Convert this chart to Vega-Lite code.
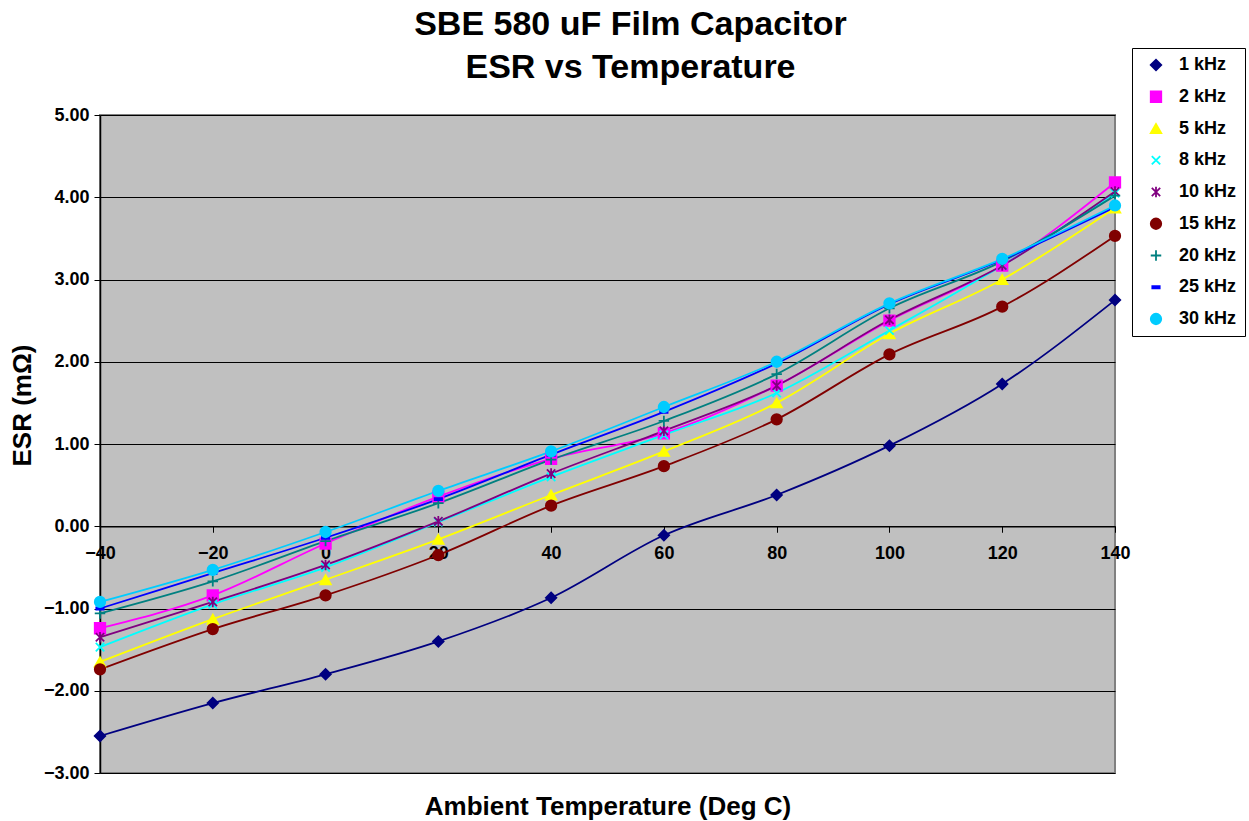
{
  "$schema": "https://vega.github.io/schema/vega-lite/v6.json",
  "width": 1015,
  "height": 658,
  "autosize": {"type": "none"},
  "padding": {"left": 100, "top": 115, "right": 134, "bottom": 48},
  "background": "white",
  "title": {
    "text": ["SBE 580 uF Film Capacitor", "ESR vs Temperature"],
    "font": "Liberation Sans",
    "fontSize": 34,
    "fontWeight": "bold",
    "color": "black",
    "anchor": "middle",
    "dx": 23,
    "offset": -37,
    "lineHeight": 43
  },
  "config": {
    "view": {"fill": "#C0C0C0", "stroke": "#808080", "strokeWidth": 2},
    "font": "Liberation Sans",
    "legend": {
      "title": null,
      "orient": "none", "legendX": 1032, "legendY": -67,
      "fillColor": "white", "strokeColor": "black", "padding": 8,
      "labelFont": "Liberation Sans", "labelFontSize": 18, "labelFontWeight": "bold", "labelColor": "black",
      "rowPadding": 13.75, "symbolSize": 110, "symbolStrokeWidth": 1.8, "labelOffset": 14, "symbolOffset": 7
    }
  },
  "data": {
    "values": [
      {"T": -40, "f": "1 kHz", "esr": -2.55}, {"T": -20, "f": "1 kHz", "esr": -2.15}, {"T": 0, "f": "1 kHz", "esr": -1.80}, {"T": 20, "f": "1 kHz", "esr": -1.40}, {"T": 40, "f": "1 kHz", "esr": -0.87}, {"T": 60, "f": "1 kHz", "esr": -0.11}, {"T": 80, "f": "1 kHz", "esr": 0.38}, {"T": 100, "f": "1 kHz", "esr": 0.98}, {"T": 120, "f": "1 kHz", "esr": 1.73}, {"T": 140, "f": "1 kHz", "esr": 2.75},
      {"T": -40, "f": "2 kHz", "esr": -1.24}, {"T": -20, "f": "2 kHz", "esr": -0.84}, {"T": 0, "f": "2 kHz", "esr": -0.21}, {"T": 20, "f": "2 kHz", "esr": 0.36}, {"T": 40, "f": "2 kHz", "esr": 0.82}, {"T": 60, "f": "2 kHz", "esr": 1.13}, {"T": 80, "f": "2 kHz", "esr": 1.71}, {"T": 100, "f": "2 kHz", "esr": 2.50}, {"T": 120, "f": "2 kHz", "esr": 3.17}, {"T": 140, "f": "2 kHz", "esr": 4.18},
      {"T": -40, "f": "5 kHz", "esr": -1.65}, {"T": -20, "f": "5 kHz", "esr": -1.13}, {"T": 0, "f": "5 kHz", "esr": -0.65}, {"T": 20, "f": "5 kHz", "esr": -0.16}, {"T": 40, "f": "5 kHz", "esr": 0.38}, {"T": 60, "f": "5 kHz", "esr": 0.91}, {"T": 80, "f": "5 kHz", "esr": 1.50}, {"T": 100, "f": "5 kHz", "esr": 2.34}, {"T": 120, "f": "5 kHz", "esr": 3.00}, {"T": 140, "f": "5 kHz", "esr": 3.87},
      {"T": -40, "f": "8 kHz", "esr": -1.47}, {"T": -20, "f": "8 kHz", "esr": -0.95}, {"T": 0, "f": "8 kHz", "esr": -0.50}, {"T": 20, "f": "8 kHz", "esr": 0.05}, {"T": 40, "f": "8 kHz", "esr": 0.60}, {"T": 60, "f": "8 kHz", "esr": 1.11}, {"T": 80, "f": "8 kHz", "esr": 1.62}, {"T": 100, "f": "8 kHz", "esr": 2.38}, {"T": 120, "f": "8 kHz", "esr": 3.17}, {"T": 140, "f": "8 kHz", "esr": 4.05},
      {"T": -40, "f": "10 kHz", "esr": -1.35}, {"T": -20, "f": "10 kHz", "esr": -0.92}, {"T": 0, "f": "10 kHz", "esr": -0.47}, {"T": 20, "f": "10 kHz", "esr": 0.06}, {"T": 40, "f": "10 kHz", "esr": 0.64}, {"T": 60, "f": "10 kHz", "esr": 1.16}, {"T": 80, "f": "10 kHz", "esr": 1.71}, {"T": 100, "f": "10 kHz", "esr": 2.51}, {"T": 120, "f": "10 kHz", "esr": 3.17}, {"T": 140, "f": "10 kHz", "esr": 4.07},
      {"T": -40, "f": "15 kHz", "esr": -1.74}, {"T": -20, "f": "15 kHz", "esr": -1.25}, {"T": 0, "f": "15 kHz", "esr": -0.84}, {"T": 20, "f": "15 kHz", "esr": -0.35}, {"T": 40, "f": "15 kHz", "esr": 0.25}, {"T": 60, "f": "15 kHz", "esr": 0.73}, {"T": 80, "f": "15 kHz", "esr": 1.30}, {"T": 100, "f": "15 kHz", "esr": 2.09}, {"T": 120, "f": "15 kHz", "esr": 2.67}, {"T": 140, "f": "15 kHz", "esr": 3.53},
      {"T": -40, "f": "20 kHz", "esr": -1.06}, {"T": -20, "f": "20 kHz", "esr": -0.67}, {"T": 0, "f": "20 kHz", "esr": -0.18}, {"T": 20, "f": "20 kHz", "esr": 0.28}, {"T": 40, "f": "20 kHz", "esr": 0.81}, {"T": 60, "f": "20 kHz", "esr": 1.28}, {"T": 80, "f": "20 kHz", "esr": 1.85}, {"T": 100, "f": "20 kHz", "esr": 2.65}, {"T": 120, "f": "20 kHz", "esr": 3.22}, {"T": 140, "f": "20 kHz", "esr": 4.02},
      {"T": -40, "f": "25 kHz", "esr": -1.00}, {"T": -20, "f": "25 kHz", "esr": -0.57}, {"T": 0, "f": "25 kHz", "esr": -0.14}, {"T": 20, "f": "25 kHz", "esr": 0.33}, {"T": 40, "f": "25 kHz", "esr": 0.87}, {"T": 60, "f": "25 kHz", "esr": 1.39}, {"T": 80, "f": "25 kHz", "esr": 1.98}, {"T": 100, "f": "25 kHz", "esr": 2.70}, {"T": 120, "f": "25 kHz", "esr": 3.24}, {"T": 140, "f": "25 kHz", "esr": 3.88},
      {"T": -40, "f": "30 kHz", "esr": -0.92}, {"T": -20, "f": "30 kHz", "esr": -0.53}, {"T": 0, "f": "30 kHz", "esr": -0.07}, {"T": 20, "f": "30 kHz", "esr": 0.43}, {"T": 40, "f": "30 kHz", "esr": 0.91}, {"T": 60, "f": "30 kHz", "esr": 1.45}, {"T": 80, "f": "30 kHz", "esr": 2.00}, {"T": 100, "f": "30 kHz", "esr": 2.71}, {"T": 120, "f": "30 kHz", "esr": 3.25}, {"T": 140, "f": "30 kHz", "esr": 3.90}
    ]
  },
  "encoding": {
    "x": {
      "field": "T", "type": "quantitative",
      "scale": {"domain": [-40, 140], "nice": false, "zero": false},
      "axis": {
        "values": [-40, -20, 0, 20, 40, 60, 80, 100, 120, 140],
        "offset": -246.75,
        "grid": false,
        "domainColor": "black", "domainWidth": 1.5,
        "tickColor": "black", "tickSize": 6,
        "labelFont": "Liberation Sans", "labelFontSize": 18, "labelFontWeight": "bold", "labelColor": "black",
        "labelPadding": 12, "labelFlush": false, "labelOverlap": false,
        "title": "Ambient Temperature (Deg C)",
        "titleFont": "Liberation Sans", "titleFontSize": 26, "titleFontWeight": "bold", "titleColor": "black",
        "titleBaseline": "alphabetic",
        "titleY": 288
      }
    },
    "y": {
      "field": "esr", "type": "quantitative",
      "scale": {"domain": [-3, 5], "nice": false},
      "axis": {
        "values": [-3, -2, -1, 0, 1, 2, 3, 4, 5],
        "format": ".2f",
        "grid": true, "gridColor": "black", "gridWidth": 1,
        "domainColor": "black", "domainWidth": 1.5,
        "tickColor": "black", "tickSize": 6,
        "labelFont": "Liberation Sans", "labelFontSize": 18, "labelFontWeight": "bold", "labelColor": "black",
        "labelPadding": 5, "labelOverlap": false,
        "title": "ESR (mΩ)",
        "titleFont": "Liberation Sans", "titleFontSize": 26, "titleFontWeight": "bold", "titleColor": "black",
        "titleX": -78, "titleY": 290, "titleAngle": -90, "titleBaseline": "middle", "titleAlign": "center"
      }
    },
    "color": {
      "field": "f", "type": "nominal",
      "scale": {
        "domain": ["1 kHz", "2 kHz", "5 kHz", "8 kHz", "10 kHz", "15 kHz", "20 kHz", "25 kHz", "30 kHz"],
        "range": ["#000080", "#FF00FF", "#FFFF00", "#00FFFF", "#800080", "#800000", "#008080", "#0000FF", "#00CCFF"]
      }
    }
  },
  "layer": [
    {
      "mark": {"type": "line", "interpolate": "monotone", "strokeWidth": 1.8}
    },
    {
      "mark": {"type": "point", "filled": true, "size": 110, "strokeWidth": 1.8, "opacity": 1},
      "encoding": {
        "stroke": {
          "field": "f", "type": "nominal",
          "scale": {
            "domain": ["1 kHz", "2 kHz", "5 kHz", "8 kHz", "10 kHz", "15 kHz", "20 kHz", "25 kHz", "30 kHz"],
            "range": ["#000080", "#FF00FF", "#FFFF00", "#00FFFF", "#800080", "#800000", "#008080", "#0000FF", "#00CCFF"]
          }
        },
        "shape": {
          "field": "f", "type": "nominal",
          "scale": {
            "domain": ["1 kHz", "2 kHz", "5 kHz", "8 kHz", "10 kHz", "15 kHz", "20 kHz", "25 kHz", "30 kHz"],
            "range": ["diamond", "square", "triangle-up", "M-0.8,-0.8L0.8,0.8M-0.8,0.8L0.8,-0.8", "M-0.8,-0.8L0.8,0.8M-0.8,0.8L0.8,-0.8M0,-1L0,1", "circle", "M-1,0L1,0M0,-1L0,1", "M-0.7,-0.2L0.7,-0.2L0.7,0.2L-0.7,0.2Z", "circle"]
          }
        }
      }
    }
  ]
}
